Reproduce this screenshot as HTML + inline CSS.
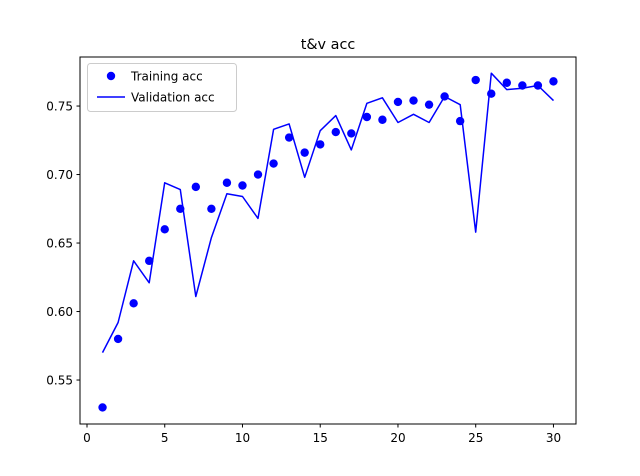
<!DOCTYPE html>
<html><head><meta charset="utf-8"><style>
html,body{margin:0;padding:0;background:#fff;}
svg{display:block;font-family:"DejaVu Sans","Liberation Sans",sans-serif;}
</style></head><body>
<svg id="chart" width="640" height="476">
<rect width="640" height="476" fill="#fff"/>
<g id="plot"></g>
</svg>
<script>
const epochs=[1,2,3,4,5,6,7,8,9,10,11,12,13,14,15,16,17,18,19,20,21,22,23,24,25,26,27,28,29,30];
const trainAcc=[0.530,0.580,0.606,0.637,0.660,0.675,0.691,0.675,0.694,0.692,0.700,0.708,0.727,0.716,0.722,0.731,0.730,0.742,0.740,0.753,0.754,0.751,0.757,0.739,0.769,0.759,0.767,0.765,0.765,0.768];
const valAcc=[0.570,0.592,0.637,0.621,0.694,0.689,0.611,0.654,0.686,0.684,0.668,0.733,0.737,0.698,0.732,0.743,0.718,0.752,0.756,0.738,0.744,0.738,0.757,0.751,0.658,0.774,0.762,0.763,0.765,0.754];
const xTicks=[0,5,10,15,20,25,30];
const yTicks=[0.55,0.60,0.65,0.70,0.75];

const L=80,R=576,T=57,B=424;
const xmin=-0.45,xmax=31.45,ymin=0.5179,ymax=0.7858;
const xs=v=>L+(v-xmin)/(xmax-xmin)*(R-L);
const ys=v=>B-(v-ymin)/(ymax-ymin)*(B-T);
const NS="http://www.w3.org/2000/svg";
const g=document.getElementById('plot');
function mk(tag,attrs,parent){const e=document.createElementNS(NS,tag);for(const k in attrs)e.setAttribute(k,attrs[k]);(parent||g).appendChild(e);return e;}

// validation line
const pts=epochs.map((e,i)=>xs(e).toFixed(1)+','+ys(valAcc[i]).toFixed(1)).join(' ');
const vl=mk('polyline',{points:pts,fill:'none',stroke:'#0000ff','stroke-width':1.5,'stroke-linejoin':'round'});


// training points
epochs.forEach((e,i)=>{
 const c=mk('circle',{cx:xs(e),cy:ys(trainAcc[i]),r:4.2,fill:'#0000ff'});
 
 
});
// axes frame
const fr=mk('rect',{x:L,y:T,width:R-L,height:B-T,fill:'none',stroke:'#000','stroke-width':1});


xTicks.forEach(t=>{
 const x=xs(t);
 mk('line',{x1:x,x2:x,y1:B,y2:B+3.5,stroke:'#000'});
 const tx=mk('text',{x:x,y:B+18,'text-anchor':'middle','font-size':12});
 tx.textContent=t;
 
 
});
yTicks.forEach(t=>{
 const y=ys(t);
 mk('line',{x1:L-3.5,x2:L,y1:y,y2:y,stroke:'#000'});
 const tx=mk('text',{x:L-7,y:y+4.5,'text-anchor':'end','font-size':12});
 tx.textContent=t.toFixed(2);
 
 
});
const ti=mk('text',{x:(L+R)/2,y:49,'text-anchor':'middle','font-size':14.4});
ti.textContent='t&v acc';


// legend
const lg=mk('g',{});


mk('rect',{x:87.5,y:63.5,width:149,height:48,rx:3,fill:'#fff','fill-opacity':0.8,stroke:'#ccc'},lg);
mk('circle',{cx:111,cy:76,r:4.2,fill:'#0000ff'},lg);
const t1=mk('text',{x:131,y:80.5,'font-size':12},lg);t1.textContent='Training acc';


mk('line',{x1:97,x2:125,y1:97,y2:97,stroke:'#0000ff','stroke-width':1.5},lg);
const t2=mk('text',{x:131,y:101.5,'font-size':12},lg);t2.textContent='Validation acc';


</script>
</body></html>
